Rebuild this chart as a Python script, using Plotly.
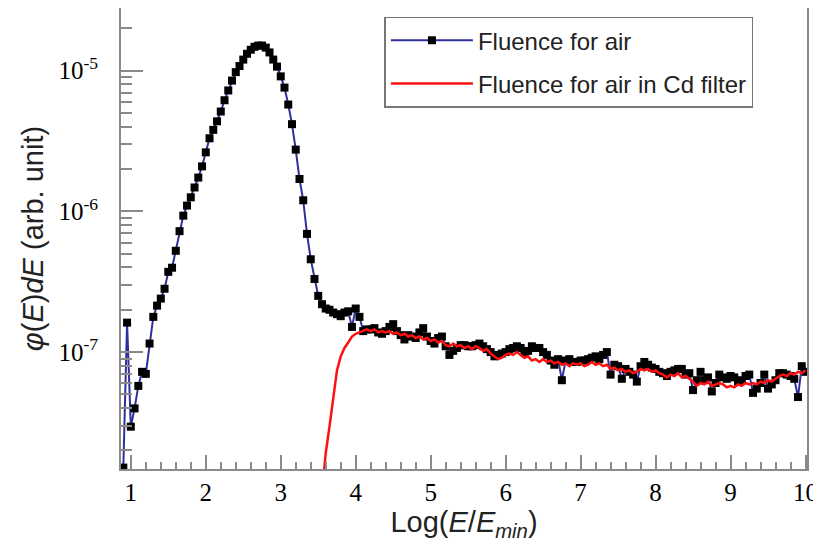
import numpy as np
import plotly.graph_objects as go

# Fluence for air: bins of Log(E/Emin) starting at 0.90, width 0.05
air_start, air_step = 0.90, 0.05
air_flux = [
    1.51e-8, 1.62e-7, 2.95e-8, 3.98e-8, 5.75e-8, 7.24e-8, 7.00e-8, 1.15e-7, 1.78e-7, 2.14e-7,
    2.40e-7, 2.82e-7, 3.72e-7, 3.98e-7, 5.25e-7, 7.24e-7, 9.33e-7, 1.10e-6, 1.26e-6, 1.48e-6,
    1.74e-6, 2.09e-6, 2.63e-6, 3.31e-6, 3.80e-6, 4.37e-6, 5.13e-6, 6.17e-6, 7.24e-6, 8.51e-6,
    9.77e-6, 1.08e-5, 1.20e-5, 1.32e-5, 1.41e-5, 1.48e-5, 1.51e-5, 1.51e-5, 1.46e-5, 1.35e-5,
    1.20e-5, 1.07e-5, 9.12e-6, 7.59e-6, 5.75e-6, 4.17e-6, 2.75e-6, 1.70e-6, 1.20e-6, 6.92e-7,
    4.57e-7, 3.31e-7, 2.51e-7, 2.19e-7, 2.04e-7, 2.00e-7, 1.91e-7, 1.86e-7, 1.80e-7, 1.91e-7,
    1.95e-7, 1.51e-7, 2.04e-7, 1.78e-7, 1.41e-7, 1.45e-7, 1.45e-7, 1.48e-7, 1.38e-7, 1.35e-7,
    1.41e-7, 1.51e-7, 1.58e-7, 1.41e-7, 1.32e-7, 1.23e-7, 1.32e-7, 1.29e-7, 1.26e-7, 1.38e-7,
    1.48e-7, 1.29e-7, 1.20e-7, 1.15e-7, 1.26e-7, 1.29e-7, 1.10e-7, 9.55e-8, 1.02e-7, 1.07e-7,
    1.12e-7, 1.12e-7, 1.10e-7, 1.10e-7, 1.12e-7, 1.15e-7, 1.10e-7, 1.05e-7, 1.00e-7, 9.33e-8,
    9.55e-8, 9.77e-8, 1.00e-7, 1.05e-7, 1.07e-7, 1.10e-7, 1.07e-7, 1.00e-7, 1.02e-7, 1.10e-7,
    1.07e-7, 1.07e-7, 1.00e-7, 9.55e-8, 8.71e-8, 8.13e-8, 8.91e-8, 6.31e-8, 8.71e-8, 8.91e-8,
    8.51e-8, 8.51e-8, 8.71e-8, 8.71e-8, 8.91e-8, 9.12e-8, 9.33e-8, 8.91e-8, 9.55e-8, 1.00e-7,
    6.92e-8, 8.13e-8, 7.94e-8, 6.46e-8, 7.59e-8, 7.24e-8, 6.92e-8, 6.17e-8, 7.94e-8, 8.51e-8,
    8.13e-8, 7.76e-8, 7.59e-8, 7.24e-8, 7.08e-8, 6.76e-8, 7.24e-8, 7.41e-8, 7.59e-8, 7.59e-8,
    6.92e-8, 7.08e-8, 5.37e-8, 6.31e-8, 7.24e-8, 6.31e-8, 6.61e-8, 5.25e-8, 6.03e-8, 6.92e-8,
    6.61e-8, 6.46e-8, 6.76e-8, 6.61e-8, 6.17e-8, 6.31e-8, 6.76e-8, 6.92e-8, 5.13e-8, 5.50e-8,
    6.03e-8, 6.92e-8, 5.50e-8, 5.89e-8, 6.31e-8, 7.08e-8, 7.08e-8, 6.92e-8, 6.76e-8, 6.46e-8,
    4.79e-8, 7.94e-8, 7.24e-8,
]

# Fluence for air in Cd filter: bins starting at 3.55, width 0.05
cd_start, cd_step = 3.55, 0.05
cd_flux = [
    1.00e-8, 1.91e-8, 2.95e-8, 4.68e-8, 7.41e-8, 9.33e-8, 1.07e-7, 1.17e-7, 1.29e-7, 1.35e-7,
    1.38e-7, 1.41e-7, 1.45e-7, 1.41e-7, 1.45e-7, 1.38e-7, 1.41e-7, 1.38e-7, 1.41e-7, 1.35e-7,
    1.38e-7, 1.32e-7, 1.35e-7, 1.29e-7, 1.32e-7, 1.26e-7, 1.29e-7, 1.23e-7, 1.26e-7, 1.20e-7,
    1.23e-7, 1.17e-7, 1.20e-7, 1.12e-7, 1.10e-7, 1.15e-7, 1.10e-7, 1.12e-7, 1.07e-7, 1.10e-7,
    1.05e-7, 1.10e-7, 1.07e-7, 1.02e-7, 1.05e-7, 9.77e-8, 9.33e-8, 8.91e-8, 9.12e-8, 9.55e-8,
    9.77e-8, 9.55e-8, 1.00e-7, 9.55e-8, 9.12e-8, 9.33e-8, 8.71e-8, 8.91e-8, 8.51e-8, 8.91e-8,
    8.51e-8, 8.71e-8, 8.32e-8, 8.51e-8, 8.13e-8, 8.32e-8, 7.94e-8, 8.32e-8, 8.13e-8, 8.32e-8,
    7.94e-8, 8.13e-8, 8.51e-8, 8.13e-8, 8.32e-8, 7.94e-8, 8.13e-8, 7.59e-8, 7.76e-8, 7.41e-8,
    7.59e-8, 7.24e-8, 7.41e-8, 7.08e-8, 7.24e-8, 7.59e-8, 7.41e-8, 7.59e-8, 7.24e-8, 7.41e-8,
    7.08e-8, 6.92e-8, 6.61e-8, 6.92e-8, 6.76e-8, 7.08e-8, 6.61e-8, 6.76e-8, 6.46e-8, 6.17e-8,
    5.75e-8, 6.03e-8, 5.89e-8, 6.17e-8, 5.75e-8, 5.89e-8, 6.03e-8, 5.89e-8, 5.62e-8, 5.75e-8,
    5.62e-8, 5.89e-8, 5.75e-8, 6.03e-8, 5.89e-8, 6.03e-8, 5.89e-8, 6.17e-8, 6.03e-8, 6.31e-8,
    6.17e-8, 6.46e-8, 6.76e-8, 6.92e-8, 6.76e-8, 7.08e-8, 6.92e-8, 7.24e-8, 7.08e-8, 7.41e-8,
]

x_ticks = [1, 2, 3, 4, 5, 6, 7, 8, 9, 10]
y_ticks = [1e-7, 1e-6, 1e-5]
y_ticktext = ["10<sup>-7</sup>", "10<sup>-6</sup>", "10<sup>-5</sup>"]

air_x = np.round(air_start + air_step * np.arange(len(air_flux)), 2)
cd_x = np.round(cd_start + cd_step * np.arange(len(cd_flux)), 2)

y_minor = [m * 10.0 ** e for e in range(-9, -3) for m in range(2, 10)]

AXC = "#8a8a8a"

fig = go.Figure()
fig.add_trace(go.Scatter(
    x=air_x, y=air_flux, mode="lines+markers", name="Fluence for air",
    line=dict(color="#2f2f9e", width=2),
    marker=dict(symbol="square", size=8, color="black"),
    legendgroup="a",
))
fig.add_trace(go.Scatter(
    x=cd_x, y=cd_flux, mode="lines", name="Fluence for air in Cd filter",
    line=dict(color="#ff1010", width=2.5),
    legendgroup="b",
))

# the page body adds an 8 px offset, so the figure is 8 px smaller on each axis
fig.update_layout(
    width=813, height=536,
    margin=dict(l=113, r=14, t=0, b=75),
    paper_bgcolor="white", plot_bgcolor="white",
    showlegend=True,
    legend=dict(
        x=0.384, y=0.981, xanchor="left", yanchor="top",
        bgcolor="white", bordercolor="#777777", borderwidth=1.5,
        font=dict(family="Liberation Sans, Arial, sans-serif", size=24, color="#222"),
        itemwidth=82, tracegroupgap=9, traceorder="grouped",
    ),
)

fig.update_xaxes(
    range=[0.869, 10.02], automargin=False,
    tickmode="array", tickvals=x_ticks, ticktext=[str(t) for t in x_ticks],
    ticks="inside", ticklen=14, tickwidth=1.5, tickcolor=AXC,
    showline=True, linecolor=AXC, linewidth=2, mirror=True,
    showgrid=False, zeroline=False,
    minor=dict(dtick=0.2, tick0=0, ticks="inside", ticklen=7, tickwidth=1.5,
               tickcolor=AXC, showgrid=False),
    tickfont=dict(family="Liberation Serif, Times New Roman, serif", size=25, color="black"),
    title=dict(text="Log(<i>E</i>/<i>E</i><sub><i>min</i></sub>)",
               font=dict(family="Liberation Sans, Arial, sans-serif", size=29, color="#222"),
               standoff=4),
)

fig.update_yaxes(
    type="log", range=[-7.831, -4.554], automargin=False,
    tickmode="array", tickvals=y_ticks, ticktext=y_ticktext,
    ticks="inside", ticklen=22, tickwidth=1.5, tickcolor=AXC,
    showline=True, linecolor=AXC, linewidth=2, mirror=True,
    showgrid=False, zeroline=False,
    minor=dict(tickmode="array", tickvals=y_minor, ticks="inside", ticklen=11,
               tickwidth=1.5, tickcolor=AXC, showgrid=False),
    tickfont=dict(family="Liberation Serif, Times New Roman, serif", size=25, color="black"),
    ticklabelstandoff=16,
    title=dict(text="<i>φ</i>(<i>E</i>)<i>dE</i> (arb. unit)",
               font=dict(family="Liberation Sans, Arial, sans-serif", size=29, color="#222"),
               standoff=6),
)

fig.write_html("out.html")
